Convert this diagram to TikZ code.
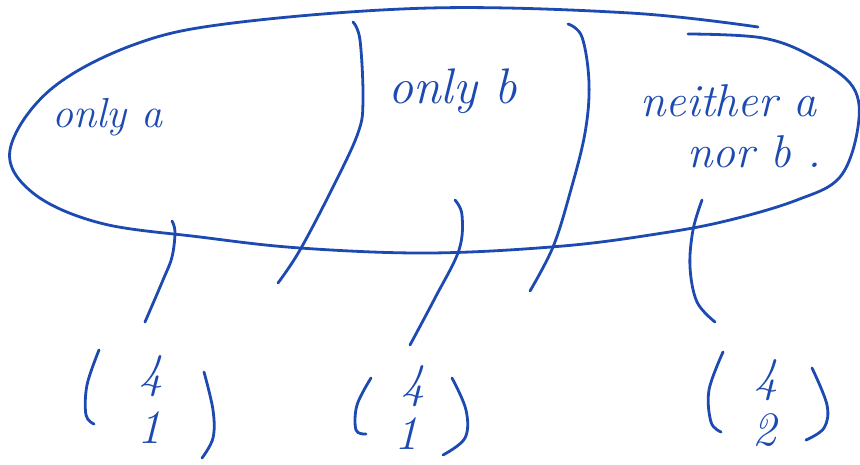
\documentclass[tikz,border=0pt]{standalone}
\usepackage{fontspec}
\definecolor{ink}{HTML}{1D4AB0}
\tikzset{
  stroke/.style={draw=ink, line width=2.8pt, line cap=round, line join=round},
  lbl/.style={text=ink, inner sep=0pt, anchor=base west},
  digit/.style={text=ink, inner sep=0pt, font=\fontsize{48}{48}\selectfont\itshape}
}
\begin{document}
\begin{tikzpicture}[x=1pt, y=-1pt]
\useasboundingbox (0,0) rectangle (860,465);
% main loop
\draw[stroke] plot[smooth, tension=0.6] coordinates {
  (688,34) (763,38) (813,57) (853,87) (858,127) (840,177) (797,200) (730,220)
  (663,233) (563,246) (430,253) (300,248) (200,237) (100,223) (33,193) (10,150)
  (50,90) (133,45) (233,23) (430,8) (630,13) (758,27)};
% dividers
\draw[stroke] plot[smooth, tension=0.6] coordinates {
  (353,22) (360,40) (363,100) (358,133) (333,187) (300,250) (278,283)};
\draw[stroke] plot[smooth, tension=0.6] coordinates {
  (568,24) (582,37) (589,83) (585,133) (570,193) (553,247) (530,291)};
% labels
\node[lbl, font=\fontsize{42}{42}\selectfont\itshape] (la) at (52,128) {only a};
\node[lbl, font=\fontsize{50}{50}\selectfont\itshape] (lb) at (388,104) {only b};
\node[lbl, font=\fontsize{46}{46}\selectfont\itshape] (ln1) at (640,117) {neither a};
\node[lbl, font=\fontsize{46}{46}\selectfont\itshape] (ln2) at (687,168) {nor b .};
% binomials
\node[digit] (a4) at (151,376) {4};
\node[digit] (a1) at (149,428) {1};
\node[digit] (b4) at (413,386) {4};
\node[digit] (b1) at (406,434) {1};
\node[digit] (c4) at (766,380) {4};
\node[digit] (c2) at (764,430) {2};
% connectors from labels to binomials
\coordinate (ta) at (172,221);
\coordinate (ea) at (145,322);
\coordinate (tb) at (455,200);
\coordinate (eb) at (410,345);
\coordinate (tc) at (702,200);
\coordinate (ec) at (715,322);
\draw[stroke] plot[smooth, tension=0.6] coordinates {(ta) (175,232) (172,257) (163,280) (ea)};
\draw[stroke] plot[smooth, tension=0.6] coordinates {(tb) (462,215) (459,250) (435,298) (eb)};
\draw[stroke] plot[smooth, tension=0.6] coordinates {(tc) (693,230) (690,267) (697,302) (ec)};
% parentheses
\draw[stroke] plot[smooth, tension=0.6] coordinates {(99,350) (87,385) (86,415) (94,424)};
\draw[stroke] plot[smooth, tension=0.6] coordinates {(204,372) (213,410) (213,438) (202,458)};
\draw[stroke] plot[smooth, tension=0.6] coordinates {(371,378) (357,405) (356,430) (366,434)};
\draw[stroke] plot[smooth, tension=0.6] coordinates {(452,378) (466,410) (465,438) (443,455)};
\draw[stroke] plot[smooth, tension=0.6] coordinates {(723,352) (709,390) (711,422) (721,432)};
\draw[stroke] plot[smooth, tension=0.6] coordinates {(812,368) (827,405) (824,428) (806,440)};
\end{tikzpicture}
\end{document}
